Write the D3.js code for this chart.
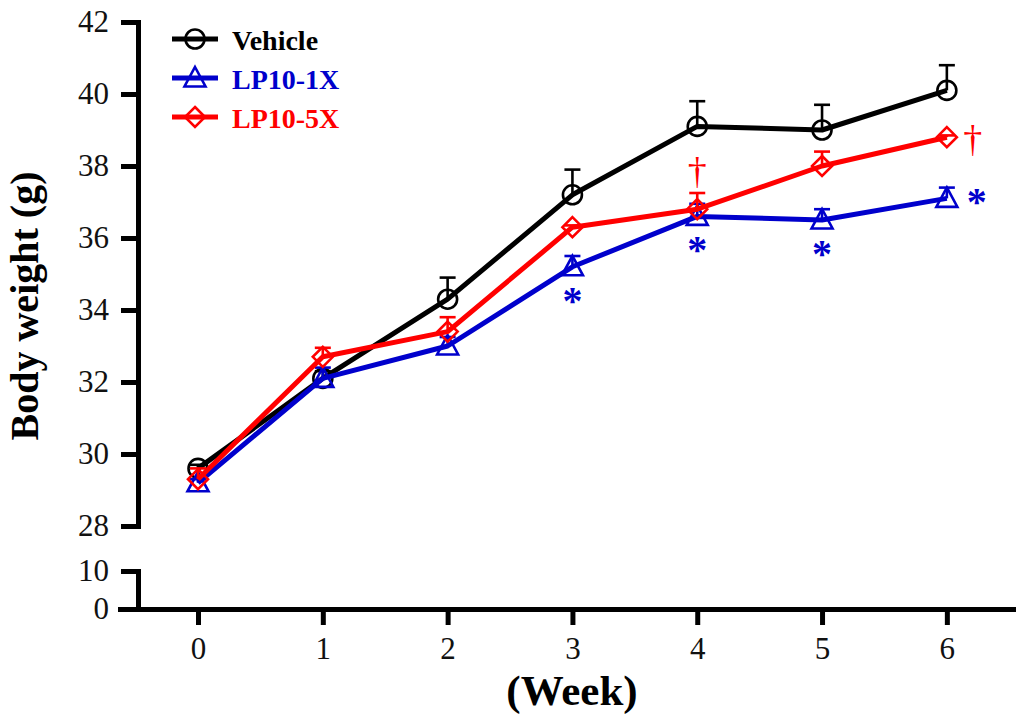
<!DOCTYPE html>
<meta charset="utf-8">
<html>
  <style>
    body { margin: 0; background: #fff; }
    .axis path, .axis line { stroke: #000; stroke-width: 5px; }
    .series path.line { fill: none; stroke-width: 5px; stroke-linejoin: round; }
  </style>
  <head>
    <script src="https://d3js.org/d3.v7.min.js"></script>
  </head>
  <body>
    <script>
      // data
      var weeks = [0, 1, 2, 3, 4, 5, 6];
      var seriesNames = ["Vehicle", "LP10-1X", "LP10-5X"];
      var vehicleMean = [29.6, 32.1, 34.3, 37.2, 39.1, 39.0, 40.1];
      var vehicleErr  = [0.1, 0.2, 0.6, 0.7, 0.7, 0.7, 0.7];
      var lp1Mean = [29.2, 32.1, 33.0, 35.2, 36.6, 36.5, 37.1];
      var lp1Err  = [0.1, 0.3, 0.25, 0.3, 0.35, 0.3, 0.3];
      var lp5Mean = [29.3, 32.7, 33.4, 36.3, 36.8, 38.0, 38.8];
      var lp5Err  = [0.3, 0.25, 0.4, 0.05, 0.45, 0.4, 0.05];
      var lp1Sig = [3, 4, 5, 6];   // "*"
      var lp5Sig = [4, 6];         // "†"
      var upperTicks = [28, 30, 32, 34, 36, 38, 40, 42];
      var lowerTicks = [0, 10];

      var colors = ["#000000", "#0000cc", "#ff0000"];
      var shapes = ["circle", "triangle", "diamond"];
      var serif = "'Liberation Serif', 'Times New Roman', serif";

      var width = 1024, height = 721;
      var svg = d3.select("body").append("svg")
          .attr("width", width)
          .attr("height", height);

      // scales (broken y axis: two segments)
      var x = d3.scaleLinear().domain([-0.625, 6.53]).range([120, 1013]);
      var yUp = d3.scaleLinear().domain([28, 42]).range([526, 22]);
      var yLow = d3.scaleLinear().domain([0, 10]).range([609, 571]);
      var axisX = 138;

      // axes
      svg.append("g").attr("class", "axis")
         .attr("transform", "translate(" + axisX + ",0)")
         .call(d3.axisLeft(yUp).tickValues(upperTicks).tickSize(17).tickSizeOuter(0).tickPadding(12));
      svg.append("g").attr("class", "axis")
         .attr("transform", "translate(" + axisX + ",0)")
         .call(d3.axisLeft(yLow).tickValues(lowerTicks).tickSize(17).tickSizeOuter(0).tickPadding(12));
      svg.append("g").attr("class", "axis")
         .attr("transform", "translate(0," + yLow(0) + ")")
         .call(d3.axisBottom(x).tickValues(weeks).tickSize(16).tickSizeOuter(0).tickPadding(12));
      svg.selectAll(".axis .domain").attr("stroke-linecap", "square");
      svg.selectAll(".axis")
         .attr("font-family", serif)
         .attr("font-size", 31);
      svg.selectAll(".axis text").attr("fill", "#111");

      // axis titles
      svg.append("text")
         .attr("text-anchor", "middle")
         .attr("transform", "translate(38," + 306 + ")rotate(-90)")
         .style("font-family", serif)
         .style("font-weight", "bold")
         .style("font-size", "40px")
         .text("Body weight (g)");
      svg.append("text")
         .attr("text-anchor", "middle")
         .attr("x", 572).attr("y", 705)
         .style("font-family", serif)
         .style("font-weight", "bold")
         .style("font-size", "43px")
         .text("(Week)");

      var series = [
        {name: seriesNames[0], mean: vehicleMean, err: vehicleErr},
        {name: seriesNames[1], mean: lp1Mean, err: lp1Err},
        {name: seriesNames[2], mean: lp5Mean, err: lp5Err}
      ];

      function marker(sel, shape, color) {
        if (shape === "circle") {
          sel.append("circle").attr("r", 9.5);
        } else if (shape === "triangle") {
          sel.append("path").attr("d", "M0,-11L10.5,8.5L-10.5,8.5Z");
        } else {
          sel.append("path").attr("d", "M0,-10L10,0L0,10L-10,0Z");
        }
        sel.selectAll("circle,path")
           .attr("fill", "none")
           .attr("stroke", color)
           .attr("stroke-width", 2.6);
      }

      var line = d3.line()
          .x(function(d) { return x(d.week); })
          .y(function(d) { return yUp(d.v); });

      series.forEach(function(s, i) {
        var pts = weeks.map(function(w, j) { return {week: w, v: s.mean[j], e: s.err[j]}; });
        var g = svg.append("g").attr("class", "series");

        // error bars (upper only)
        var eb = g.selectAll(".eb").data(pts).enter().append("g")
            .attr("stroke", colors[i]).attr("stroke-width", 2.6);
        eb.append("line")
          .attr("x1", function(d) { return x(d.week); })
          .attr("x2", function(d) { return x(d.week); })
          .attr("y1", function(d) { return yUp(d.v); })
          .attr("y2", function(d) { return yUp(d.v + d.e); });
        eb.append("line")
          .attr("x1", function(d) { return x(d.week) - 8; })
          .attr("x2", function(d) { return x(d.week) + 8; })
          .attr("y1", function(d) { return yUp(d.v + d.e); })
          .attr("y2", function(d) { return yUp(d.v + d.e); });

        g.append("path").datum(pts)
         .attr("class", "line")
         .attr("stroke", colors[i])
         .attr("d", line);

        g.selectAll(".mk").data(pts).enter().append("g")
         .attr("transform", function(d) { return "translate(" + x(d.week) + "," + yUp(d.v) + ")"; })
         .each(function() { marker(d3.select(this), shapes[i], colors[i]); });
      });

      // significance marks
      var last = weeks[weeks.length - 1];
      lp1Sig.forEach(function(w) {
        var j = weeks.indexOf(w);
        var px = x(w), py = yUp(lp1Mean[j]);
        if (w === last) { px += 30; } else { py += 30; }
        svg.append("text")
           .attr("x", px).attr("y", py + 17)
           .attr("text-anchor", "middle")
           .style("font-family", serif)
           .style("font-weight", "bold")
           .style("font-size", "40px")
           .attr("fill", colors[1])
           .text("*");
      });
      lp5Sig.forEach(function(w) {
        var j = weeks.indexOf(w);
        var px = x(w), py = yUp(lp5Mean[j]);
        if (w === last) { px += 26; py += 4; } else { py -= 36; }
        svg.append("text")
           .attr("x", px).attr("y", py + 11)
           .attr("text-anchor", "middle")
           .style("font-family", serif)
           .style("font-size", "38px")
           .attr("fill", colors[2])
           .text("\u2020");
      });

      // legend
      var legend = svg.append("g");
      seriesNames.forEach(function(name, i) {
        var ly = 39 + i * 39;
        var lg = legend.append("g").attr("transform", "translate(0," + ly + ")");
        lg.append("line")
          .attr("x1", 172).attr("x2", 218)
          .attr("stroke", colors[i]).attr("stroke-width", 5);
        var m = lg.append("g").attr("transform", "translate(195,0)");
        marker(m, shapes[i], colors[i]);
        lg.append("text")
          .attr("x", 232).attr("y", 11)
          .style("font-family", serif)
          .style("font-weight", "bold")
          .style("font-size", "28px")
          .attr("fill", colors[i])
          .text(name);
      });
    </script>
  </body>
</html>
